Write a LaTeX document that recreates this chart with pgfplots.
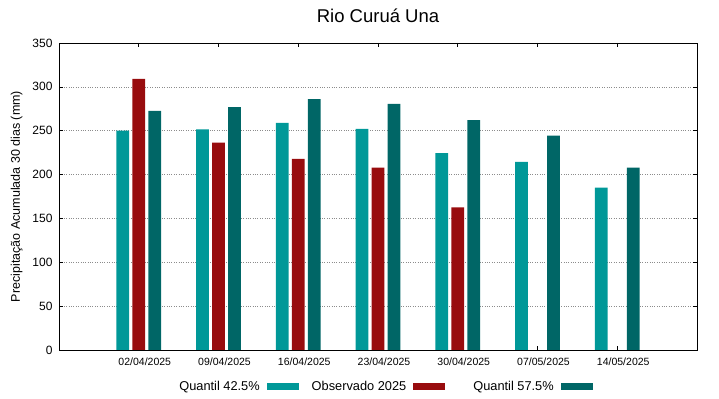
\documentclass[border=0pt]{standalone}
\usepackage{pgfplots}
\pgfplotsset{compat=1.18}
\usepackage{fontspec}
\setmainfont{Liberation Sans}
\definecolor{qlow}{RGB}{0,152,152}
\definecolor{obs}{RGB}{152,12,14}
\definecolor{qhigh}{RGB}{0,102,102}
\pgfplotstableread{
x q425 obs q575
0 250 309 272.5
1 251.5 236.5 277
2 259 218 286
3 252 208 280.5
4 224.5 162.5 262
5 214.5 nan 244.5
6 185 nan 208
}\datatable
\begin{document}
\begin{tikzpicture}
\begin{axis}[
  scale only axis, width=638bp, height=307bp,
  xmin=-1, xmax=7, ymin=0, ymax=350,
  ytick={0,50,...,350},
  xtick={0,...,6},
  xticklabels={02/04/2025,09/04/2025,16/04/2025,23/04/2025,30/04/2025,07/05/2025,14/05/2025},
  xticklabel style={font=\fontsize{10.5bp}{12bp}\selectfont, xshift=6bp, yshift=-4bp},
  yticklabel style={font=\fontsize{12bp}{14bp}\selectfont, xshift=-3bp},
  /pgf/number format/assume math mode=true,
  ymajorgrids,
  grid style={dotted, black!45, line width=0.6pt},
  tick align=inside, major tick length=4bp,
  tick style={black, line width=0.6pt},
  axis line style={black, line width=0.7pt},
  unbounded coords=discard,
  title={Rio Curuá Una},
  title style={font=\fontsize{18.5bp}{21bp}\selectfont, yshift=11bp},
  ylabel={Precipitação Acumulada 30 dias (mm)},
  ylabel style={font=\fontsize{12.5bp}{14bp}\selectfont, yshift=3bp},
  legend columns=3,
  legend plot pos=right,
  legend style={at={(0.511,-0.12)}, anchor=center, draw=none, fill=none,
    font=\fontsize{12.8bp}{14bp}\selectfont,
    /tikz/every even column/.append style={column sep=11bp},
    /tikz/every odd column/.append style={column sep=5bp}},
  clip=false,
]
\path (rel axis cs:-0.0925,-0.1596) rectangle (rel axis cs:1.0345,1.140);
\addplot[ybar, bar width=0.16, bar shift=-0.2, fill=qlow, draw=none,
  legend image code/.code={\fill[qlow] (0bp,-3.5bp) rectangle (32bp,3.5bp);}]
  table[x=x, y=q425] {\datatable};
\addlegendentry{Quantil 42.5\%}
\addplot[ybar, bar width=0.16, bar shift=0, fill=obs, draw=none,
  legend image code/.code={\fill[obs] (0bp,-3.5bp) rectangle (32bp,3.5bp);}]
  table[x=x, y=obs] {\datatable};
\addlegendentry{Observado 2025}
\addplot[ybar, bar width=0.16, bar shift=0.2, fill=qhigh, draw=none,
  legend image code/.code={\fill[qhigh] (0bp,-3.5bp) rectangle (32bp,3.5bp);}]
  table[x=x, y=q575] {\datatable};
\addlegendentry{\hspace{15bp}Quantil 57.5\%}
\end{axis}
\end{tikzpicture}
\end{document}
